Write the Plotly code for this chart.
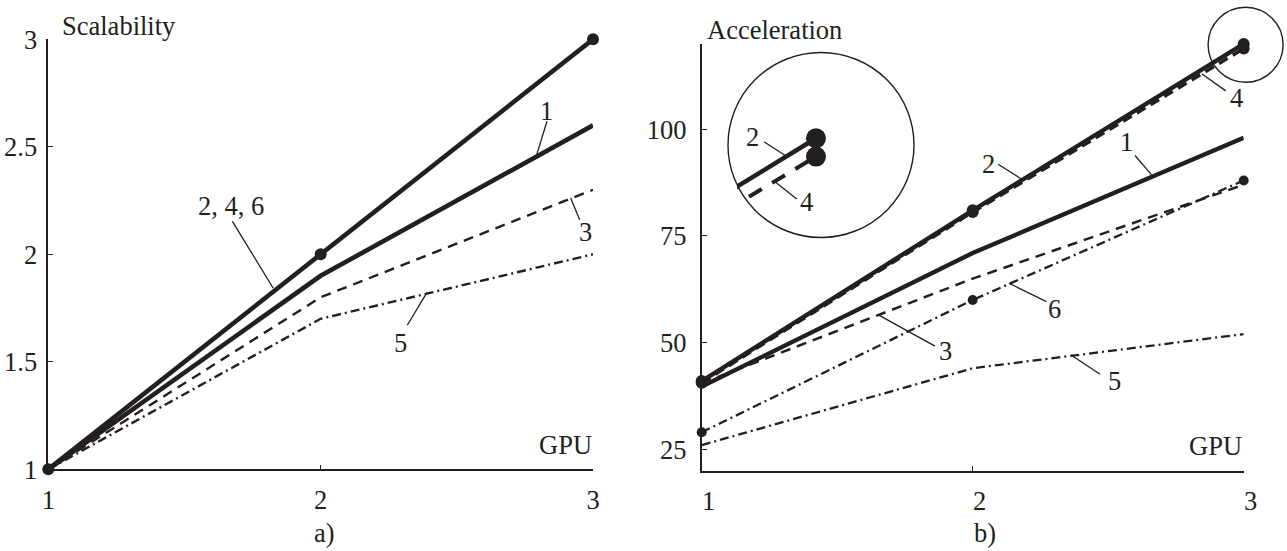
import plotly.graph_objects as go

# ---------------- data ----------------
gpu = [1, 2, 3]

# a) Scalability
scal_1 = [1.0, 1.9, 2.6]
scal_246 = [1.0, 2.0, 3.0]
scal_3 = [1.0, 1.8, 2.3]
scal_5 = [1.0, 1.7, 2.0]

# b) Acceleration
acc_1 = [39.7, 71.0, 98.0]
acc_2 = [41.0, 81.0, 120.0]
acc_3 = [40.5, 65.0, 87.0]
acc_4 = [40.6, 80.6, 118.9]
acc_5 = [26.0, 44.0, 52.0]
acc_6 = [29.0, 60.0, 88.0]

scal_ticks = [1, 1.5, 2, 2.5, 3]
scal_ticktext = ["1", "1.5", "2", "2.5", "3"]
acc_ticks = [25, 50, 75, 100]
gpu_ticktext = ["1", "2", "3"]

# ---------------- layout helpers ----------------
W, H = 1287, 551
def PX(px):
    return px / W
def PY(py):
    return 1 - py / H

INK = "#231f20"
FONT = "Liberation Serif"
FS = 26.5
DASH = "10px,7px"
DASHDOT = "9px,4px,2px,4px"

fig = go.Figure()

def add(x, y, xa, ya, width, dash="solid", marker=None, clip=False):
    mode = "lines+markers" if marker else "lines"
    kw = dict(x=x, y=y, mode=mode, xaxis=xa, yaxis=ya, showlegend=False,
              hoverinfo="skip", cliponaxis=clip,
              line=dict(color=INK, width=width, dash=dash))
    if marker:
        kw["marker"] = dict(color=INK, size=marker, line=dict(width=0))
    fig.add_trace(go.Scatter(**kw))

# a)
add(gpu, scal_5, "x", "y", 2.4, DASHDOT)
add(gpu, scal_3, "x", "y", 2.4, DASH)
add(gpu, scal_1, "x", "y", 4.6)
add(gpu, scal_246, "x", "y", 4.6, marker=12)

# b)
add(gpu, acc_5, "x2", "y2", 2.3, DASHDOT)
add(gpu, acc_6, "x2", "y2", 2.3, DASHDOT, marker=10)
add(gpu, acc_3, "x2", "y2", 2.5, DASH)
add(gpu, acc_1, "x2", "y2", 4.4)
add(gpu, acc_4, "x2", "y2", 3.4, "10px,6px", marker=12)
add(gpu, acc_2, "x2", "y2", 4.4, marker=12)

# inset (magnified view near GPU = 3)
add(gpu, acc_4, "x3", "y3", 4.0, "15px,12px", marker=20, clip=True)
add(gpu, acc_2, "x3", "y3", 4.6, marker=20, clip=True)

axis_common = dict(showgrid=False, zeroline=False, showline=True,
                   automargin=False,
                   linecolor=INK, linewidth=1.6, ticks="inside", ticklen=5,
                   tickcolor=INK, tickwidth=1.2,
                   tickfont=dict(family=FONT, size=FS, color=INK))

fig.update_layout(
    template="none",
    width=W, height=H, autosize=False,
    margin=dict(l=0, r=0, t=0, b=0, pad=0, autoexpand=False),
    paper_bgcolor="white", plot_bgcolor="rgba(0,0,0,0)",
    xaxis=dict(domain=[PX(48.3), PX(593)], range=[1, 3], tickvals=gpu,
               ticktext=gpu_ticktext, anchor="y", ticklabelstandoff=6,
               **axis_common),
    yaxis=dict(domain=[PY(469.3), PY(39.3)], range=[1, 3], tickvals=scal_ticks,
               ticktext=scal_ticktext, anchor="x", ticklabelstandoff=4,
               **axis_common),
    xaxis2=dict(domain=[PX(701.7), PX(1243.7)], range=[1, 3], tickvals=gpu,
                ticktext=gpu_ticktext, anchor="y2", ticklabelstandoff=6,
                ticklabelshift=7, **axis_common),
    yaxis2=dict(domain=[PY(470.7), PY(43.9)], range=[20, 120], tickvals=acc_ticks,
                anchor="x2", ticklabelstandoff=8, **axis_common),
    xaxis3=dict(domain=[PX(737), PX(905)], range=[2.9253, 3.0842], visible=False,
                anchor="y3", fixedrange=True, automargin=False),
    yaxis3=dict(domain=[PY(198), PY(108)], range=[116.40, 121.83], visible=False,
                anchor="x3", fixedrange=True, automargin=False),
)

ann = []
def text(t, x, y, xref, yref, xanchor="center", yanchor="middle"):
    ann.append(dict(text=t, x=x, y=y, xref=xref, yref=yref, showarrow=False,
                    xanchor=xanchor, yanchor=yanchor,
                    font=dict(family=FONT, size=FS, color=INK)))

shapes = []
def seg(x0, y0, x1, y1, xref, yref, w=1.3):
    shapes.append(dict(type="line", x0=x0, y0=y0, x1=x1, y1=y1, xref=xref,
                       yref=yref, line=dict(color=INK, width=w)))

# axis titles and panel captions
text("Scalability", PX(60), PY(26.5), "paper", "paper", xanchor="left")
text("Acceleration", PX(705), PY(29.5), "paper", "paper", xanchor="left")
text("GPU", PX(594), PY(445), "paper", "paper", xanchor="right")
text("GPU", PX(1244), PY(446), "paper", "paper", xanchor="right")
text("a)", PX(324), PY(533), "paper", "paper")
text("b)", PX(985), PY(533), "paper", "paper")

# a) curve labels
text("1", 2.831, 2.668, "x", "y")
seg(2.831, 2.619, 2.794, 2.466, "x", "y")
text("2, 4, 6", 1.672, 2.226, "x", "y")
seg(1.676, 2.153, 1.826, 1.842, "x", "y")
text("3", 2.973, 2.104, "x", "y")
seg(2.951, 2.161, 2.918, 2.262, "x", "y")
text("5", 2.292, 1.589, "x", "y")
seg(2.318, 1.670, 2.390, 1.822, "x", "y")

# b) curve labels
text("2", 2.059, 91.8, "x2", "y2")
seg(2.094, 91.8, 2.181, 88.3, "x2", "y2")
text("1", 2.569, 97.1, "x2", "y2")
seg(2.599, 93.85, 2.660, 89.3, "x2", "y2")
text("4", 2.973, 107.4, "x2", "y2")
seg(2.934, 109.0, 2.845, 113.0, "x2", "y2")
text("6", 2.302, 57.8, "x2", "y2")
seg(2.272, 59.6, 2.135, 63.9, "x2", "y2")
text("3", 1.899, 48.0, "x2", "y2")
seg(1.861, 49.2, 1.655, 56.4, "x2", "y2")
text("5", 2.523, 41.0, "x2", "y2")
seg(2.470, 42.6, 2.363, 47.1, "x2", "y2")

# inset labels
text("2", PX(752.7), PY(136.7), "paper", "paper")
seg(PX(764), PY(141.7), PX(786), PY(156), "paper", "paper")
text("4", PX(806.7), PY(201.7), "paper", "paper")
seg(PX(796.7), PY(199), PX(775), PY(181.7), "paper", "paper")

# magnifier circles
shapes.append(dict(type="circle", xref="paper", yref="paper",
                   x0=PX(1245.6 - 37.5), x1=PX(1245.6 + 37.5),
                   y0=PY(44.8 + 37.5), y1=PY(44.8 - 37.5),
                   line=dict(color=INK, width=1.4)))
shapes.append(dict(type="circle", xref="paper", yref="paper",
                   x0=PX(821 - 93), x1=PX(821 + 93), y0=PY(145 + 92.5),
                   y1=PY(145 - 92.5), line=dict(color=INK, width=1.4)))

fig.update_layout(annotations=ann, shapes=shapes)
fig.write_html(
    "out.html",
    config={"displayModeBar": False, "responsive": False},
    post_script="document.body.style.margin='0px';"
                "document.body.style.overflow='hidden';",
)
